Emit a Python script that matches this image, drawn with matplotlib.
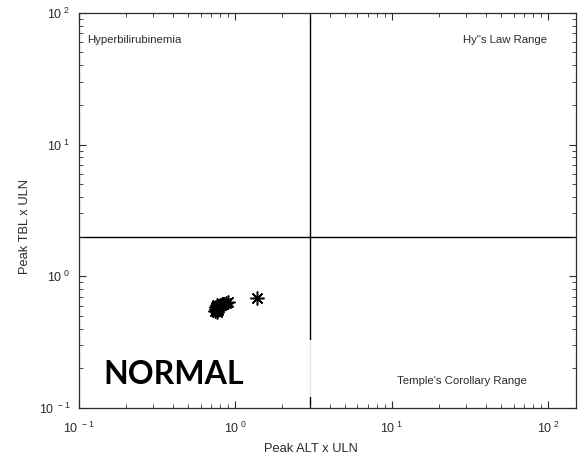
import math
import matplotlib
matplotlib.use("Agg")
import matplotlib.pyplot as plt
from matplotlib.ticker import LogLocator, FuncFormatter, NullFormatter
from matplotlib.patches import Rectangle

plt.rcParams["font.family"] = ["Liberation Sans", "DejaVu Sans"]

# ─── Datos ────────────────────────────────────────────────────────────────────
alt_uln = [0.74, 0.75, 0.75, 0.76, 0.76, 0.77, 0.78, 0.78, 0.80,
           0.82, 0.84, 0.87, 0.90, 0.76, 1.38]
tbl_uln = [0.55, 0.57, 0.59, 0.56, 0.61, 0.58, 0.60, 0.56, 0.61,
           0.62, 0.62, 0.63, 0.64, 0.54, 0.69]

ALT_LIMIT = 3.0   # 3 x ULN
TBL_LIMIT = 2.0   # 2 x ULN

XLIM = (0.1, 150)
YLIM = (0.1, 100)

DARK = "#2b2b2b"

# ─── Figura ───────────────────────────────────────────────────────────────────
fig = plt.figure(figsize=(5.84, 4.57), dpi=100)
ax = fig.add_axes([0.135, 0.107, 0.851, 0.865])

ax.set_xscale("log")
ax.set_yscale("log")
ax.set_xlim(*XLIM)
ax.set_ylim(*YLIM)

# umbrales
ax.axvline(ALT_LIMIT, color="black", lw=1.0, zorder=1)
ax.axhline(TBL_LIMIT, color="black", lw=1.0, zorder=1)

# caja blanca de la etiqueta NORMAL (tapa parte de la línea vertical)
ax.add_patch(Rectangle((0.03, 0.028), 0.452, 0.144, transform=ax.transAxes,
                       facecolor="white", edgecolor="none", alpha=0.9, zorder=2))

ax.plot(alt_uln, tbl_uln, linestyle="none", marker=(8, 2, 0), markersize=10,
        markeredgewidth=1.1, color="black", zorder=3)


def pow10(v, pos):
    exp = int(round(math.log10(v)))
    return r"$\mathregular{10^{\ %d}}$" % exp


for axis in (ax.xaxis, ax.yaxis):
    axis.set_major_locator(LogLocator(base=10))
    axis.set_minor_locator(LogLocator(base=10, subs=range(2, 10)))
    axis.set_major_formatter(FuncFormatter(pow10))
    axis.set_minor_formatter(NullFormatter())

ax.tick_params(which="both", direction="in", top=True, right=True,
               color=DARK, labelcolor=DARK, labelsize=9)
ax.tick_params(which="major", length=5, width=0.8)
ax.tick_params(which="minor", length=3, width=0.6)
ax.tick_params(axis="x", pad=9)
ax.tick_params(axis="y", pad=6)
for sp in ax.spines.values():
    sp.set_color(DARK)
    sp.set_linewidth(0.9)

ax.set_xlabel("Peak ALT x ULN", fontsize=9.3, color=DARK)
ax.set_ylabel("Peak TBL x ULN", fontsize=9.3, color=DARK)
ax.xaxis.set_label_coords(0.467, -0.088)
ax.yaxis.set_label_coords(-0.096, 0.458)

# regiones
ax.text(0.016, 0.932, "Hyperbilirubinemia", transform=ax.transAxes,
        fontsize=8.2, color=DARK, ha="left", va="center")
ax.text(0.942, 0.932, 'Hy"s Law Range', transform=ax.transAxes,
        fontsize=8.2, color=DARK, ha="right", va="center")
ax.text(0.64, 0.068, "Temple's Corollary Range", transform=ax.transAxes,
        fontsize=8.2, color=DARK, ha="left", va="center")
ax.text(0.05, 0.084, "NORMAL", transform=ax.transAxes, fontsize=23,
        fontweight="bold", family=["Lato", "DejaVu Sans"], color="black",
        ha="left", va="center", zorder=4)

fig.savefig("out.png", dpi=100)
